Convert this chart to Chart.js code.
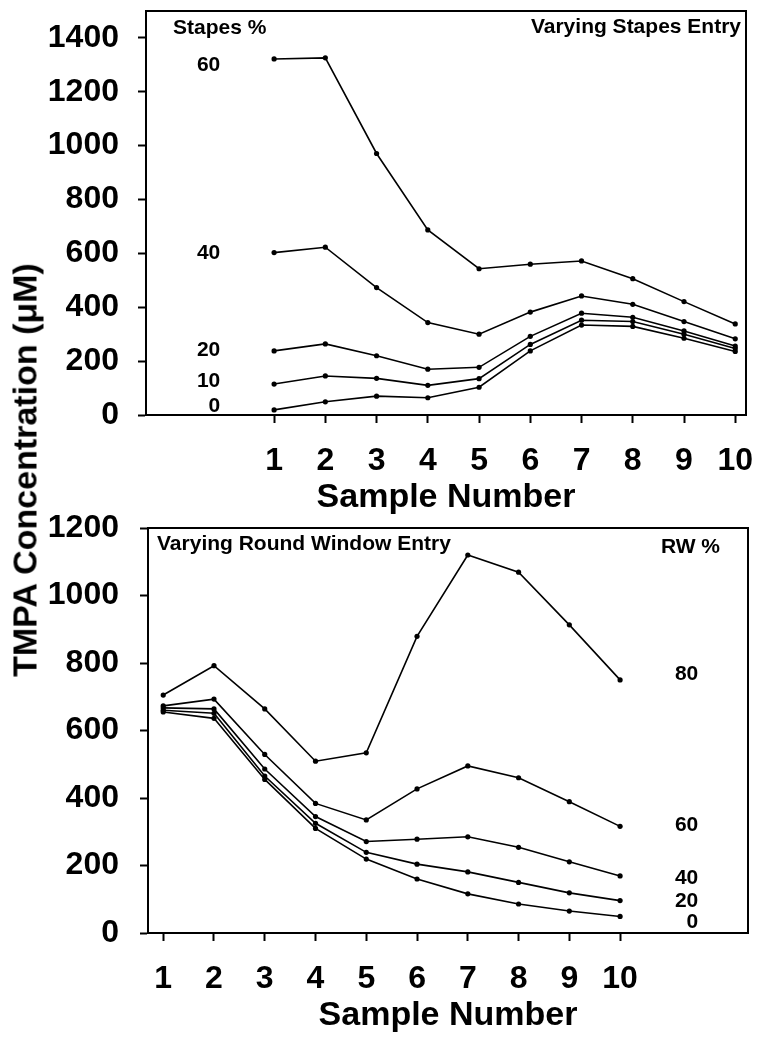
<!DOCTYPE html>
<html>
<head>
<meta charset="utf-8">
<script src="https://cdn.jsdelivr.net/npm/chart.js@4.4.0/dist/chart.umd.min.js"></script>
<style>
  body { margin: 0; background: #fff; }
  #wrap { position: relative; width: 763px; height: 1045px; }
  .box { position: absolute; left: 0; width: 763px; }
  #ytitle {
    position: absolute; left: 25px; top: 470px;
    transform: translate(-50%, -50%) rotate(-90deg);
    white-space: nowrap;
    font: bold 34px "Liberation Sans", Arial, sans-serif;
    color: #000;
  }
</style>
</head>
<body>
<div id="wrap">
  <div class="box" style="top:0;height:522px"><canvas id="chartStapes"></canvas></div>
  <div class="box" style="top:500px;height:545px"><canvas id="chartRW"></canvas></div>
  <div id="ytitle">TMPA Concentration (μM)</div>
</div>
<script>
// sample numbers (x axis)
const sampleNumbers = [1, 2, 3, 4, 5, 6, 7, 8, 9, 10];

// top panel: varying stapes entry (%)
const stapes60 = [1322, 1326, 971, 687, 543, 560, 572, 506, 421, 338];
const stapes40 = [603, 623, 473, 343, 300, 382, 442, 411, 347, 283];
const stapes20 = [238, 264, 220, 170, 177, 292, 378, 363, 312, 256];
const stapes10 = [115, 145, 136, 110, 135, 262, 352, 347, 300, 247];
const stapes0  = [19, 49, 70, 64, 103, 238, 334, 329, 285, 236];

// bottom panel: varying round window entry (%)
const rw80 = [705, 792, 664, 509, 534, 879, 1120, 1069, 913, 750];
const rw60 = [673, 693, 529, 384, 335, 427, 495, 460, 389, 316];
const rw40 = [667, 664, 486, 345, 271, 278, 285, 254, 211, 169];
const rw20 = [660, 651, 465, 325, 239, 204, 181, 150, 119, 96];
const rw0  = [655, 636, 455, 310, 219, 160, 116, 86, 65, 49];

const stapesTicks = [0, 200, 400, 600, 800, 1000, 1200, 1400];
const rwTicks = [0, 200, 400, 600, 800, 1000, 1200];

const FONT = '"Liberation Sans", Arial, sans-serif';

function makeSeries(name, values) {
  return {
    label: name,
    data: values.map((v, i) => ({ x: sampleNumbers[i], y: v })),
    borderColor: '#000',
    backgroundColor: '#000',
    borderWidth: 1.6,
    pointRadius: 2.6,
    pointBorderWidth: 0,
    pointBackgroundColor: '#000',
    tension: 0,
    fill: false
  };
}

// frame round the plot area
const frame = {
  id: 'frame',
  beforeDatasetsDraw(chart) {
    const { ctx, chartArea: a } = chart;
    ctx.save();
    ctx.strokeStyle = '#000';
    ctx.lineWidth = 2;
    ctx.strokeRect(a.left, a.top, a.right - a.left, a.bottom - a.top);
    ctx.restore();
  }
};

// text notes inside the plot
const notes = {
  id: 'notes',
  afterDatasetsDraw(chart, args, opts) {
    const { ctx, chartArea: a, scales } = chart;
    ctx.save();
    ctx.fillStyle = '#000';
    ctx.font = 'bold 21px ' + FONT;
    ctx.textBaseline = 'middle';
    (opts.items || []).forEach(it => {
      let x, y;
      if (it.x !== undefined) {
        x = scales.x.getPixelForValue(it.x);
        y = scales.y.getPixelForValue(it.y);
      } else {
        x = it.dx >= 0 ? a.left + it.dx : a.right + it.dx;
        y = a.top + it.dy;
      }
      ctx.textAlign = it.align;
      ctx.fillText(it.text, x, y);
    });
    ctx.restore();
  }
};

function buildChart(id, o) {
  return new Chart(document.getElementById(id), {
    type: 'line',
    data: { datasets: o.datasets },
    plugins: [frame, notes],
    options: {
      responsive: true,
      maintainAspectRatio: false,
      animation: false,
      layout: { padding: o.padding },
      plugins: {
        legend: { display: false },
        tooltip: { enabled: false },
        notes: { items: o.notes }
      },
      scales: {
        x: {
          type: 'linear',
          min: o.xMin,
          max: o.xMax,
          afterBuildTicks: s => { s.ticks = sampleNumbers.map(v => ({ value: v })); },
          afterFit: s => { s.height = o.xHeight; s.paddingLeft = 0; s.paddingRight = 0; },
          grid: { drawOnChartArea: false, tickLength: 8, tickWidth: 2, tickColor: '#000' },
          border: { color: '#000', width: 2 },
          ticks: { color: '#000', padding: 19, maxRotation: 0, autoSkip: false,
                   callback: v => String(v),
                   font: { family: FONT, size: 32, weight: 'bold' } },
          title: { display: true, text: 'Sample Number', color: '#000',
                   padding: { top: 0, bottom: o.titlePad },
                   font: { family: FONT, size: 34, weight: 'bold' } }
        },
        y: {
          min: 0,
          max: o.yMax,
          afterBuildTicks: s => { s.ticks = o.yTicks.map(v => ({ value: v })); },
          afterFit: s => { s.width = o.yWidth; s.paddingTop = 0; s.paddingBottom = 0; },
          grid: { drawOnChartArea: false, tickLength: 8, tickWidth: 2, tickColor: '#000' },
          border: { color: '#000', width: 2 },
          ticks: { color: '#000', padding: o.yPad,
                   callback: v => String(v),
                   font: { family: FONT, size: 32, weight: 'bold' } }
        }
      }
    }
  });
}

buildChart('chartStapes', {
  datasets: [
    makeSeries('60', stapes60), makeSeries('40', stapes40), makeSeries('20', stapes20),
    makeSeries('10', stapes10), makeSeries('0', stapes0)
  ],
  xMin: -1.5, xMax: 10.21, yMax: 1500, yTicks: stapesTicks,
  padding: { top: 11, right: 17, left: 0, bottom: 0 },
  yWidth: 146, xHeight: 107, titlePad: 4, yPad: 19,
  notes: [
    { text: 'Stapes %', dx: 27, dy: 17, align: 'left' },
    { text: 'Varying Stapes Entry', dx: -5, dy: 16, align: 'right' },
    { text: '60', x: -0.05, y: 1300, align: 'right' },
    { text: '40', x: -0.05, y: 602, align: 'right' },
    { text: '20', x: -0.05, y: 239, align: 'right' },
    { text: '10', x: -0.05, y: 124, align: 'right' },
    { text: '0', x: -0.05, y: 31, align: 'right' }
  ]
});

buildChart('chartRW', {
  datasets: [
    makeSeries('80', rw80), makeSeries('60', rw60), makeSeries('40', rw40),
    makeSeries('20', rw20), makeSeries('0', rw0)
  ],
  xMin: 0.7, xMax: 12.52, yMax: 1200, yTicks: rwTicks,
  padding: { top: 28, right: 15, left: 0, bottom: 0 },
  yWidth: 148, xHeight: 112, titlePad: 9, yPad: 21,
  notes: [
    { text: 'Varying Round Window Entry', dx: 9, dy: 16, align: 'left' },
    { text: 'RW %', dx: -28, dy: 19, align: 'right' },
    { text: '80', x: 11.54, y: 767, align: 'right' },
    { text: '60', x: 11.54, y: 318, align: 'right' },
    { text: '40', x: 11.54, y: 163, align: 'right' },
    { text: '20', x: 11.54, y: 93, align: 'right' },
    { text: '0', x: 11.54, y: 33, align: 'right' }
  ]
});
</script>
</body>
</html>
